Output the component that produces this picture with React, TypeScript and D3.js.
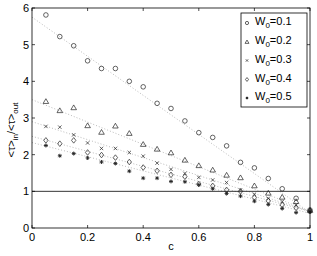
import * as d3 from "d3";

const cValues = [0.05, 0.1, 0.15, 0.2, 0.25, 0.3, 0.35, 0.4, 0.45, 0.5, 0.55, 0.6, 0.65, 0.7, 0.75, 0.8, 0.85, 0.9, 0.95, 1.0];

const w01 = [5.81, 5.22, 4.97, 4.56, 4.35, 4.35, 4.0, 3.85, 3.4, 3.26, 2.92, 2.6, 2.47, 2.24, 1.79, 1.64, 1.35, 1.07, 0.81, 0.49];
const w02 = [3.45, 3.2, 3.28, 2.79, 2.61, 2.78, 2.58, 2.28, 2.15, 2.05, 1.85, 1.7, 1.58, 1.44, 1.37, 1.15, 0.95, 0.84, 0.72, 0.48];
const w03 = [2.77, 2.75, 2.54, 2.32, 2.17, 2.17, 2.06, 1.96, 1.77, 1.6, 1.49, 1.38, 1.31, 1.24, 1.04, 0.92, 0.81, 0.72, 0.63, 0.47];
const w04 = [2.39, 2.3, 2.39, 2.06, 1.99, 1.92, 1.8, 1.65, 1.56, 1.45, 1.4, 1.2, 1.15, 1.04, 1.0, 0.83, 0.74, 0.63, 0.55, 0.46];
const w05 = [2.25, 1.97, 2.03, 1.91, 1.8, 1.76, 1.55, 1.36, 1.36, 1.27, 1.26, 1.18, 1.07, 0.94, 0.87, 0.73, 0.64, 0.53, 0.42, 0.44];

// dotted fit lines: value at c=0 and c=1
const fitStart = [5.75, 3.5, 2.9, 2.5, 2.33];
const fitEnd = [0.42, 0.45, 0.45, 0.45, 0.4];

const seriesNames = ["0.1", "0.2", "0.3", "0.4", "0.5"];
const markers = ["circle", "triangle", "cross", "diamond", "star"];

const xTicks = [0, 0.2, 0.4, 0.6, 0.8, 1];
const yTicks = [0, 1, 2, 3, 4, 5, 6];

const W = 317;
const H = 256;
const margin = { top: 8, right: 7, bottom: 28, left: 32 };
const font = "Helvetica, Arial, 'Liberation Sans', sans-serif";

function Marker({ type, x, y, s = 1 }: { type: string; x: number; y: number; s?: number }) {
  const st = { fill: "none", stroke: "#222", strokeWidth: 0.7 };
  if (type === "circle") return <circle cx={x} cy={y} r={2.3 * s} {...st} />;
  if (type === "triangle") {
    const r = 2.8 * s;
    return <path d={`M${x},${y - r}L${x + r},${y + r * 0.7}L${x - r},${y + r * 0.7}Z`} {...st} />;
  }
  if (type === "cross") {
    const r = 1.7 * s;
    return <path d={`M${x - r},${y - r}L${x + r},${y + r}M${x - r},${y + r}L${x + r},${y - r}`} {...st} />;
  }
  if (type === "diamond") {
    const rx = 2.2 * s, ry = 2.8 * s;
    return <path d={`M${x},${y - ry}L${x + rx},${y}L${x},${y + ry}L${x - rx},${y}Z`} {...st} />;
  }
  const r = 2 * s;
  return (
    <path
      d={`M${x - r},${y}L${x + r},${y}M${x},${y - r}L${x},${y + r}M${x - r * 0.7},${y - r * 0.7}L${x + r * 0.7},${y + r * 0.7}M${x - r * 0.7},${y + r * 0.7}L${x + r * 0.7},${y - r * 0.7}`}
      {...st}
      strokeWidth={0.9}
    />
  );
}

export default function App() {
  const x = d3.scaleLinear().domain([0, 1]).range([margin.left, W - margin.right]);
  const y = d3.scaleLinear().domain([0, 6]).range([H - margin.bottom, margin.top]);
  const series = [w01, w02, w03, w04, w05];
  const fitLine = d3.line<[number, number]>().x(d => x(d[0])).y(d => y(d[1]));

  const x0 = x(0), x1 = x(1), y0 = y(0), y1 = y(6);

  const legX = 241, legY = 13, legW = 66, legH = 94;
  const legRows = [23, 42, 60.5, 79.5, 98];

  return (
    <div style={{ position: "absolute", left: 0, top: 0 }}>
      <svg width={W} height={H} style={{ display: "block", background: "#fff" }} fontFamily={font}>
        {/* fit lines */}
        {fitStart.map((a, i) => (
          <path
            key={"fit" + i}
            d={fitLine([[0, a], [1, fitEnd[i]]]) || ""}
            fill="none"
            stroke="#aaa"
            strokeWidth={0.8}
            strokeDasharray="1,2"
          />
        ))}
        {/* reference line at 1 */}
        <line x1={x0} x2={x1} y1={y(1)} y2={y(1)} stroke="#000" strokeWidth={0.8} />

        {/* points */}
        {series.map((vals, si) =>
          vals.map((v, i) => (
            <Marker key={si + "-" + i} type={markers[si]} x={x(cValues[i])} y={y(v)} />
          ))
        )}

        {/* frame */}
        <rect x={x0} y={y1} width={x1 - x0} height={y0 - y1} fill="none" stroke="#000" strokeWidth={0.8} />

        {/* x ticks */}
        {xTicks.map(t => (
          <g key={"xt" + t}>
            <line x1={x(t)} x2={x(t)} y1={y0} y2={y0 - 3} stroke="#000" strokeWidth={0.7} />
            <line x1={x(t)} x2={x(t)} y1={y1} y2={y1 + 3} stroke="#000" strokeWidth={0.7} />
            <text x={x(t)} y={241} fontSize={11} textAnchor="middle" fill="#000">
              {String(t)}
            </text>
          </g>
        ))}
        {/* y ticks */}
        {yTicks.map(t => (
          <g key={"yt" + t}>
            <line x1={x0} x2={x0 + 3} y1={y(t)} y2={y(t)} stroke="#000" strokeWidth={0.7} />
            <line x1={x1} x2={x1 - 3} y1={y(t)} y2={y(t)} stroke="#000" strokeWidth={0.7} />
            <text x={29} y={y(t) + 4} fontSize={11} textAnchor="end" fill="#000">
              {String(t)}
            </text>
          </g>
        ))}

        {/* axis labels */}
        <text x={x(0.5)} y={250} fontSize={11} textAnchor="middle">c</text>
        <text transform={`translate(15,${130}) rotate(-90)`} fontSize={11} textAnchor="middle">
          <tspan>&lt;τ&gt;</tspan>
          <tspan fontSize={8} dy={3}>in</tspan>
          <tspan dy={-3}>/&lt;τ&gt;</tspan>
          <tspan fontSize={8} dy={3}>out</tspan>
        </text>

        {/* legend */}
        <rect x={legX} y={legY} width={legW} height={legH} fill="#fff" stroke="#000" strokeWidth={0.8} />
        {seriesNames.map((n, i) => (
          <g key={"leg" + i}>
            <Marker type={markers[i]} x={247} y={legRows[i]} s={0.7} />
            <text x={255} y={legRows[i] + 2} fontSize={11}>
              <tspan>W</tspan>
              <tspan fontSize={8} dy={3}>0</tspan>
              <tspan dy={-3}>={n}</tspan>
            </text>
          </g>
        ))}
      </svg>
    </div>
  );
}
